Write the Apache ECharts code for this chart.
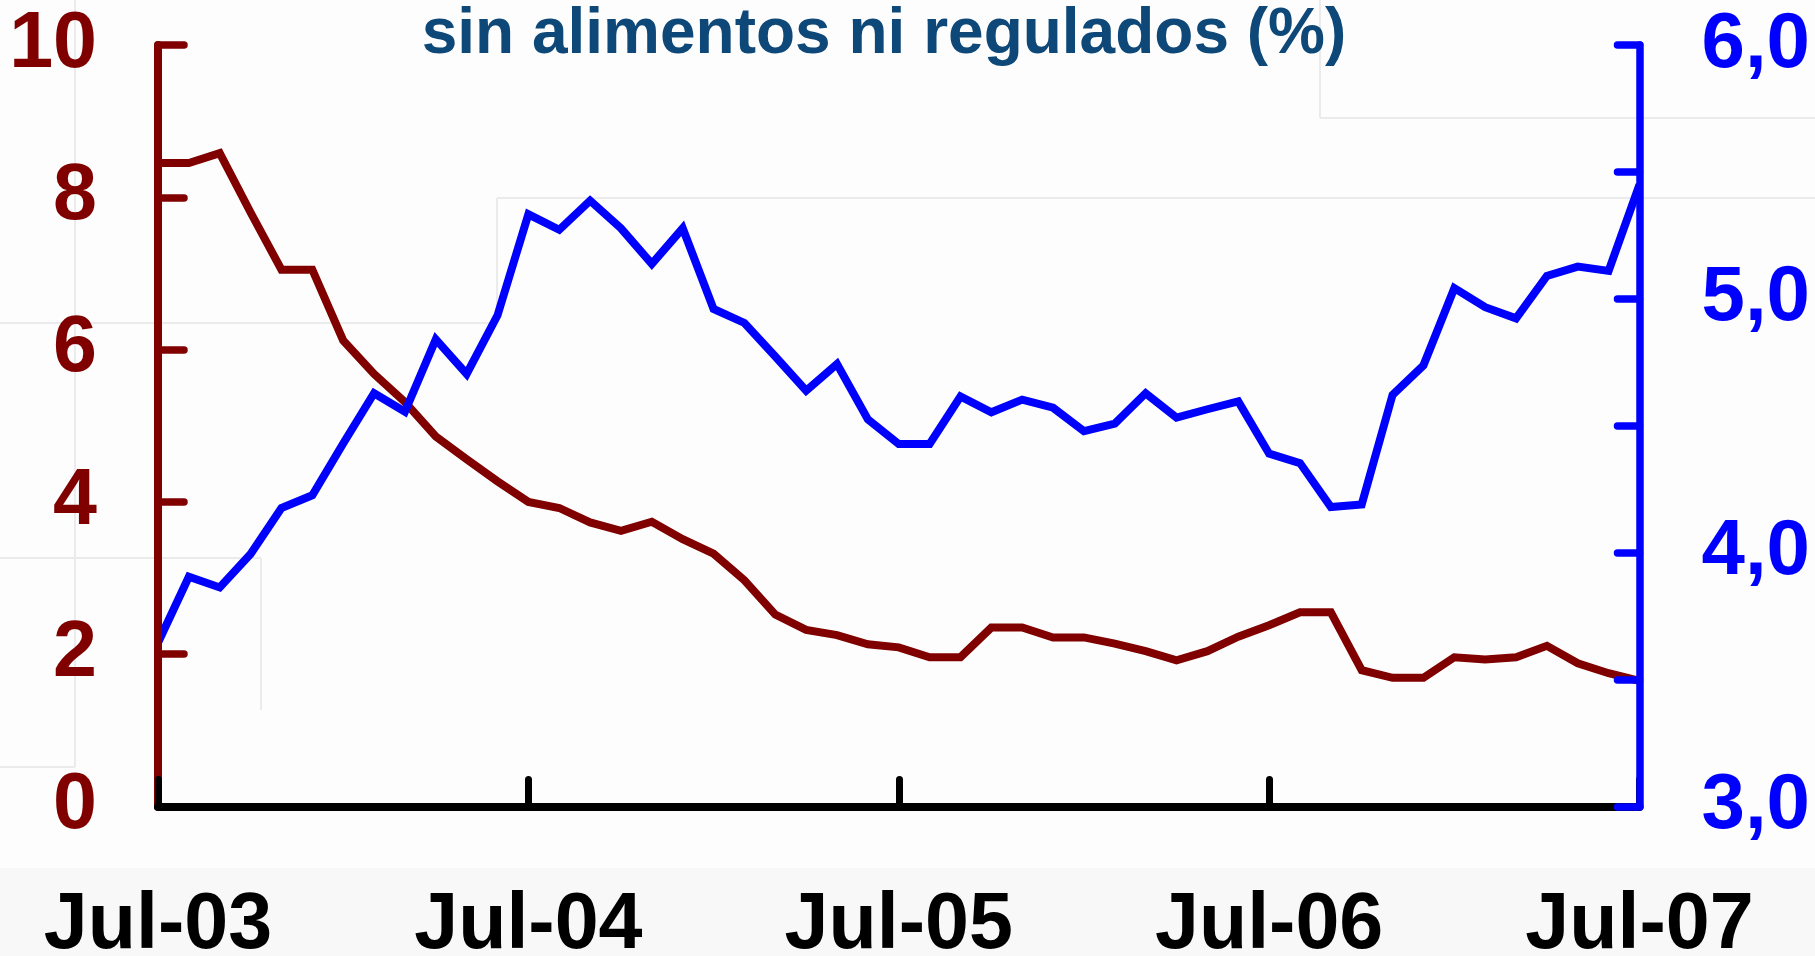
<!DOCTYPE html>
<html>
<head>
<meta charset="utf-8">
<script src="https://cdn.jsdelivr.net/npm/echarts@6/dist/echarts.min.js"></script>
<style>
html,body{margin:0;padding:0;background:#fdfdfd;}
#c{width:1815px;height:956px;}
</style>
</head>
<body>
<div id="c"></div>
<script>
const titleText = 'sin alimentos ni regulados (%)';
const months = [
 'Jul-03','Ago-03','Sep-03','Oct-03','Nov-03','Dic-03',
 'Ene-04','Feb-04','Mar-04','Abr-04','May-04','Jun-04','Jul-04','Ago-04','Sep-04','Oct-04','Nov-04','Dic-04',
 'Ene-05','Feb-05','Mar-05','Abr-05','May-05','Jun-05','Jul-05','Ago-05','Sep-05','Oct-05','Nov-05','Dic-05',
 'Ene-06','Feb-06','Mar-06','Abr-06','May-06','Jun-06','Jul-06','Ago-06','Sep-06','Oct-06','Nov-06','Dic-06',
 'Ene-07','Feb-07','Mar-07','Abr-07','May-07','Jun-07','Jul-07'
];
// left axis (maroon)
const seriesLeft = [8.45, 8.45, 8.58, 7.8, 7.05, 7.05, 6.12, 5.68, 5.31, 4.86, 4.56, 4.27, 4.0, 3.92, 3.73, 3.62, 3.74, 3.51, 3.32, 2.97, 2.52, 2.32, 2.25, 2.13, 2.09, 1.96, 1.96, 2.35, 2.35, 2.22, 2.22, 2.14, 2.04, 1.92, 2.04, 2.23, 2.38, 2.55, 2.55, 1.79, 1.69, 1.69, 1.96, 1.93, 1.96, 2.11, 1.88, 1.75, 1.65];
// right axis (blue)
const seriesRight = [3.645, 3.905, 3.863, 3.995, 4.176, 4.226, 4.43, 4.628, 4.555, 4.84, 4.704, 4.935, 5.333, 5.272, 5.387, 5.278, 5.138, 5.278, 4.96, 4.905, 4.773, 4.638, 4.743, 4.525, 4.428, 4.428, 4.615, 4.553, 4.603, 4.571, 4.479, 4.508, 4.628, 4.532, 4.565, 4.596, 4.39, 4.353, 4.18, 4.19, 4.622, 4.738, 5.042, 4.967, 4.923, 5.09, 5.127, 5.11, 5.45];
const leftTicks = {min: 0, max: 10, interval: 2};
const rightTicks = {min: 3, max: 6, interval: 0.5};

const MAROON = '#800000', BLUE = '#0000ff', FONT = 'Liberation Sans, Arial, sans-serif';
const faint = '#ebebeb';
function fline(x1,y1,x2,y2){return {type:'line',silent:true,z:-10,shape:{x1,y1,x2,y2},style:{stroke:faint,lineWidth:2}};}

const chart = echarts.init(document.getElementById('c'), null, {renderer:'canvas'});
chart.setOption({
  backgroundColor: '#fdfdfd',
  animation: false,
  graphic: [
    {type:'rect', silent:true, z:-20, shape:{x:0,y:868,width:1815,height:88}, style:{fill:'#f8f8f8'}},
    fline(497,198,1815,198), fline(497,198,497,323), fline(0,323,497,323),
    fline(1320,0,1320,118), fline(1320,118,1815,118),
    fline(75,0,75,767), fline(0,767,75,767),
    fline(0,558,261,558), fline(261,558,261,710),
    {type:'text', x:884, y:3, z:10, style:{text:titleText, fill:'#0d4878', font:'bold 64px ' + FONT, textAlign:'center', textVerticalAlign:'top'}}
  ],
  grid: {left:158, right:175.5, top:45, bottom:149.5, containLabel:false, outerBoundsMode:'none'},
  xAxis: {
    type:'category', data: months, boundaryGap:false, z:4,
    axisLine:{lineStyle:{color:'#000', width:8, cap:'round'}},
    axisTick:{inside:true, length:27, interval:11, lineStyle:{color:'#000', width:7, cap:'round'}},
    axisLabel:{interval:11, margin:80, color:'#000', fontFamily:FONT, fontWeight:'bold', fontSize:79},
    splitLine:{show:false}
  },
  yAxis: [
    {type:'value', position:'left', min:leftTicks.min, max:leftTicks.max, interval:leftTicks.interval, z:3,
     axisLine:{show:true, lineStyle:{color:MAROON, width:8, cap:'round'}},
     axisTick:{show:true, inside:true, length:26, lineStyle:{color:MAROON, width:7.5, cap:'round'}},
     axisLabel:{margin:61, color:MAROON, fontFamily:FONT, fontWeight:'bold', fontSize:79},
     splitLine:{show:false}},
    {type:'value', position:'right', min:rightTicks.min, max:rightTicks.max, interval:rightTicks.interval, z:5,
     axisLine:{show:true, lineStyle:{color:BLUE, width:7.5, cap:'round'}},
     axisTick:{show:true, inside:true, length:22, lineStyle:{color:BLUE, width:7.5, cap:'round'}},
     axisLabel:{margin:62, color:BLUE, fontFamily:FONT, fontWeight:'bold', fontSize:78,
       formatter: v => (Math.abs(v - Math.round(v)) < 1e-9) ? v.toFixed(1).replace('.', ',') : ''},
     splitLine:{show:false}}
  ],
  series: [
    {type:'line', yAxisIndex:0, data:seriesLeft, showSymbol:false, symbol:'none', z:2,
     lineStyle:{color:MAROON, width:8, join:'miter'}},
    {type:'line', yAxisIndex:1, data:seriesRight, showSymbol:false, symbol:'none', z:2,
     lineStyle:{color:BLUE, width:8, join:'miter'}}
  ]
});
</script>
</body>
</html>
